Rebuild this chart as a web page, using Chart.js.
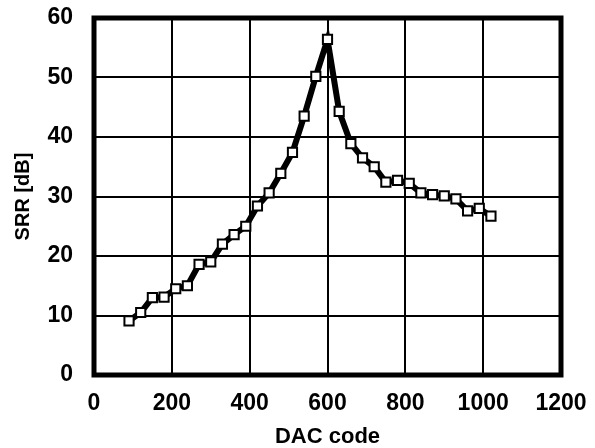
<!DOCTYPE html>
<html>
<head>
<meta charset="utf-8">
<script src="https://cdn.jsdelivr.net/npm/chart.js@4/dist/chart.umd.min.js"></script>
<style>
html,body{margin:0;padding:0;background:#fff;}
#wrap{width:595px;height:448px;position:relative;}
</style>
</head>
<body>
<div id="wrap"><canvas id="c" width="595" height="448"></canvas></div>
<script>
const dacCodes = [90,120,150,180,210,240,270,300,330,360,390,420,450,480,510,540,570,600,630,660,690,720,750,780,810,840,870,900,930,960,990,1020];
const srrValues = [9.1,10.5,13.0,13.1,14.5,15.0,18.6,19.0,22.0,23.6,25.0,28.4,30.6,33.9,37.4,43.5,50.2,56.4,44.3,38.9,36.5,35.0,32.4,32.7,32.2,30.6,30.3,30.1,29.6,27.6,28.0,26.7];
const xTicks = [0,200,400,600,800,1000,1200];
const yTicks = [0,10,20,30,40,50,60];
const xTitle = 'DAC code';
const yTitle = 'SRR [dB]';

const points = dacCodes.map((x, i) => ({x: x, y: srrValues[i]}));
const FONT = '"Liberation Sans", Arial, sans-serif';

const framePlugin = {
  id: 'frame',
  beforeDatasetsDraw(chart) {
    const a = chart.chartArea;
    const ctx = chart.ctx;
    ctx.save();
    ctx.strokeStyle = '#000';
    ctx.lineWidth = 5;
    ctx.strokeRect(a.left, a.top, a.right - a.left, a.bottom - a.top);
    ctx.restore();
  }
};

new Chart(document.getElementById('c'), {
  type: 'scatter',
  data: {
    datasets: [{
      data: points,
      showLine: true,
      borderColor: '#000',
      borderWidth: 6,
      pointStyle: 'rect',
      pointRadius: 6.5,
      pointBackgroundColor: '#fff',
      pointBorderColor: '#000',
      pointBorderWidth: 2,
      tension: 0
    }]
  },
  options: {
    responsive: false,
    animation: false,
    events: [],
    layout: {padding: {top: 18, right: 34, bottom: 0, left: 0}},
    plugins: {legend: {display: false}, tooltip: {enabled: false}},
    scales: {
      x: {
        type: 'linear',
        min: 0, max: 1200,
        afterBuildTicks(s) { s.ticks = xTicks.map(v => ({value: v})); },
        afterFit(s) { s.height = 73; s.paddingLeft = 0; s.paddingRight = 0; },
        grid: {color: '#000', lineWidth: 2, drawTicks: false},
        border: {display: false},
        ticks: {color: '#000', padding: 15, callback: v => String(v), font: {family: FONT, size: 23, weight: 'bold'}},
        title: {display: true, text: xTitle, color: '#000', padding: {top: 0, bottom: -2}, font: {family: FONT, size: 22, weight: 'bold'}}
      },
      y: {
        type: 'linear',
        min: 0, max: 60,
        afterBuildTicks(s) { s.ticks = yTicks.map(v => ({value: v})); },
        afterFit(s) { s.width = 94; s.paddingTop = 0; s.paddingBottom = 0; },
        grid: {color: '#000', lineWidth: 2, drawTicks: false},
        border: {display: false},
        ticks: {color: '#000', padding: 21, callback: v => String(v), font: {family: FONT, size: 23, weight: 'bold'}},
        title: {display: true, text: yTitle, color: '#000', padding: {top: 11, bottom: 0}, font: {family: FONT, size: 20, weight: 'bold'}}
      }
    }
  },
  plugins: [framePlugin]
});
</script>
</body>
</html>
